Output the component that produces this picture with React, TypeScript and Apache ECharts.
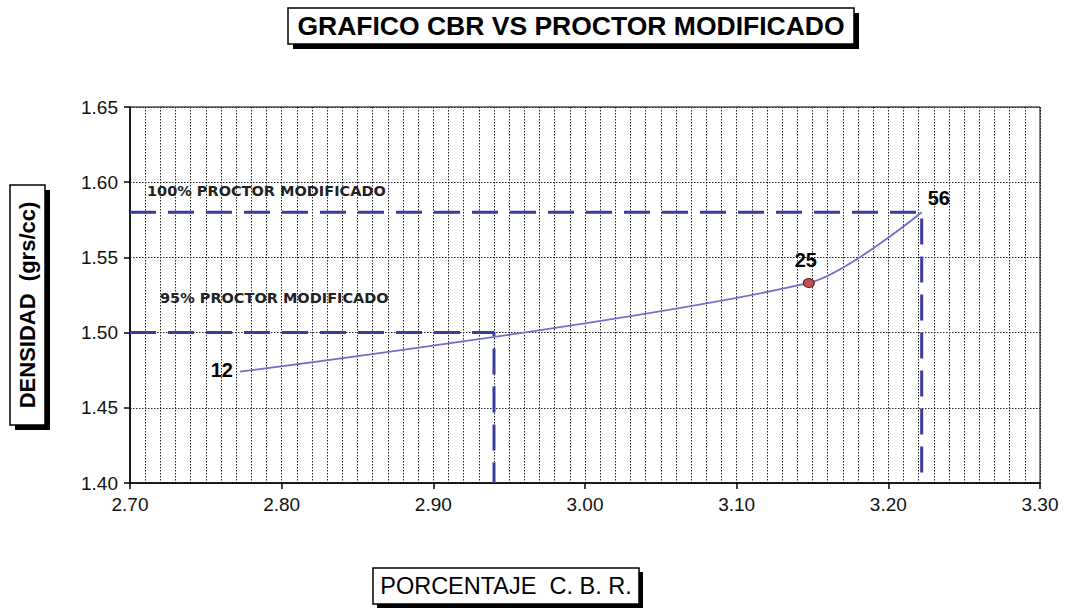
import React, { useEffect, useRef } from "react";
import * as echarts from "echarts";

// ---- data ----
const cbrValues = [2.7725, 3.1476, 3.222];
const densityValues = [1.474, 1.533, 1.58];
const blowLabels = ["12", "25", "56"];
const maxDensity = 1.58;
const cbrAt100 = 3.222;
const density95 = 1.5;
const cbrAt95 = 2.94;
const xMin = 2.7;
const xMax = 3.3;
const xStep = 0.1;
const yMin = 1.4;
const yMax = 1.65;
const yStep = 0.05;
const titleText = "GRAFICO CBR VS PROCTOR MODIFICADO";
const yName = "DENSIDAD  (grs/cc)";
const xName = "PORCENTAJE  C. B. R.";
const label100 = "100% PROCTOR MODIFICADO";
const label95 = "95% PROCTOR MODIFICADO";

const FONT = "'Liberation Sans', Arial, sans-serif";
const NARROW = "'Liberation Sans Narrow', 'Arial Narrow', 'Liberation Sans', Arial, sans-serif";
const WIDE = "'DejaVu Sans', Verdana, sans-serif";

function boxed(x: number, y: number, w: number, h: number, text: any, shadow = 5) {
  return {
    type: "group",
    children: [
      { type: "rect", shape: { x: x + shadow, y: y + shadow, width: w, height: h }, style: { fill: "#000" } },
      { type: "rect", shape: { x, y, width: w, height: h }, style: { fill: "#fff", stroke: "#000", lineWidth: 1.5 } },
      text,
    ],
  };
}

export default function App() {
  const ref = useRef<HTMLDivElement>(null);
  useEffect(() => {
    document.body.style.margin = "0";
    const chart = echarts.init(ref.current!, null, { renderer: "svg" });
    const dotted = { type: [1.5, 1.5], color: "#222", width: 1 };
    const dashStyle = { color: "#3b3b9e", width: 3, type: [26, 12] };
    const curveData = cbrValues.map((x, i) => {
      const item: any = { value: [x, densityValues[i]], label: { formatter: blowLabels[i] } };
      if (i === 0) {
        item.symbolSize = 0;
        item.label.position = "left";
        item.label.distance = 7;
        item.label.offset = [0, -2];
      } else if (i === 1) {
        item.symbolSize = [11, 9];
        item.label.position = "top";
        item.label.distance = 8;
        item.label.offset = [-3, 0];
      } else {
        item.symbolSize = 0;
        item.label.position = "right";
        item.label.distance = 4;
        item.label.offset = [2, -14];
      }
      return item;
    });
    chart.setOption({
      animation: false,
      backgroundColor: "#fff",
      grid: {
        left: 130,
        right: 31,
        top: 107,
        bottom: 125,
        show: true,
        borderColor: "#000",
        borderWidth: 1,
        backgroundColor: "transparent",
      },
      xAxis: {
        type: "value",
        min: xMin,
        max: xMax,
        interval: xStep,
        axisLine: { lineStyle: { color: "#000", width: 1.5 } },
        axisTick: { show: true, length: 6, lineStyle: { color: "#000", width: 1.5 } },
        axisLabel: {
          formatter: (v: number) => v.toFixed(2),
          color: "#111",
          fontSize: 19,
          fontFamily: NARROW,
          margin: 12,
        },
        splitLine: { show: true, lineStyle: dotted },
        minorTick: { show: false, splitNumber: 10 },
        minorSplitLine: { show: true, lineStyle: dotted },
      },
      yAxis: {
        type: "value",
        min: yMin,
        max: yMax,
        interval: yStep,
        axisLine: { show: true, lineStyle: { color: "#000", width: 1.5 } },
        axisTick: { show: true, length: 6, lineStyle: { color: "#000", width: 1.5 } },
        axisLabel: {
          formatter: (v: number) => v.toFixed(2),
          color: "#111",
          fontSize: 19,
          fontFamily: FONT,
          margin: 12,
        },
        splitLine: { show: true, lineStyle: dotted },
      },
      series: [
        {
          type: "line",
          data: [
            [xMin, maxDensity],
            [cbrAt100, maxDensity],
            [cbrAt100, yMin],
          ],
          symbol: "none",
          lineStyle: dashStyle,
          z: 3,
        },
        {
          type: "line",
          data: [
            [xMin, density95],
            [cbrAt95, density95],
            [cbrAt95, yMin],
          ],
          symbol: "none",
          lineStyle: dashStyle,
          z: 3,
        },
        {
          type: "line",
          data: curveData,
          smooth: 0.28,
          symbol: "circle",
          showSymbol: true,
          itemStyle: { color: "#c0504d", borderColor: "#5a1f1f", borderWidth: 1 },
          lineStyle: { color: "#6f6fc8", width: 1.8 },
          label: { show: true, color: "#000", fontSize: 20, fontWeight: "bold", fontFamily: FONT },
          z: 4,
        },
      ],
      graphic: [
        boxed(288, 8, 566, 36, {
          type: "text",
          x: 288 + 283,
          y: 8 + 18,
          style: {
            text: titleText,
            align: "center",
            verticalAlign: "middle",
            font: `bold 26.5px ${FONT}`,
            fill: "#000",
          },
        }),
        boxed(10, 185, 35, 240, {
          type: "text",
          x: 10 + 17.5,
          y: 185 + 120,
          rotation: Math.PI / 2,
          style: {
            text: yName,
            align: "center",
            verticalAlign: "middle",
            font: `bold 22px ${FONT}`,
            fill: "#000",
          },
        }),
        boxed(373, 568, 266, 36, {
          type: "text",
          x: 373 + 133,
          y: 568 + 18,
          style: {
            text: xName,
            align: "center",
            verticalAlign: "middle",
            font: `23.5px ${NARROW}`,
            fill: "#000",
          },
        }, 4),
        {
          type: "text",
          x: 147,
          y: 191,
          z: 10,
          style: { text: label100, verticalAlign: "middle", font: `bold 14.5px ${WIDE}`, fill: "#222" },
        },
        {
          type: "text",
          x: 160,
          y: 298,
          z: 10,
          style: { text: label95, verticalAlign: "middle", font: `bold 14.5px ${WIDE}`, fill: "#222" },
        },
      ],
    });
    return () => chart.dispose();
  }, []);
  return <div ref={ref} style={{ width: 1071, height: 608 }} />;
}
